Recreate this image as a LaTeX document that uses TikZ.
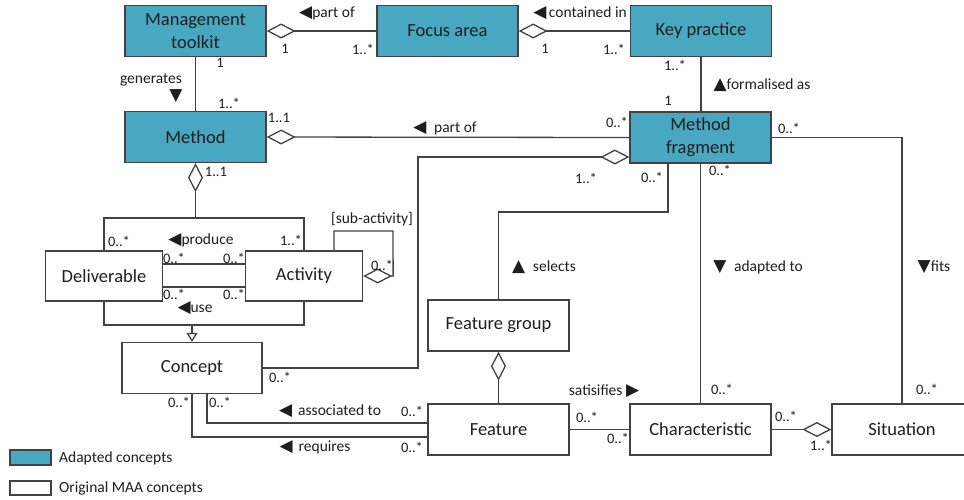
\documentclass[tikz,border=0pt]{standalone}
\usepackage{fontspec}
\setmainfont{Carlito}
\newfontfamily\symfont{DejaVu Sans}
\usepackage{xcolor}
\usetikzlibrary{arrows.meta}

\definecolor{adaptfill}{RGB}{72,167,193}
\definecolor{umlline}{RGB}{66,66,66}
\definecolor{umltext}{RGB}{30,30,30}

\newcommand{\ltri}{{\symfont\fontsize{17}{17}\selectfont ◀}}
\newcommand{\rtri}{{\symfont\fontsize{17}{17}\selectfont ▶}}
\newcommand{\utri}{{\symfont\fontsize{17}{17}\selectfont ▲}}
\newcommand{\dtri}{{\symfont\fontsize{17}{17}\selectfont ▼}}

\tikzset{
    maabox/.style={draw=umlline, line width=1.3pt, fill=white, minimum width=141pt,
        minimum height=51pt, inner sep=2pt, align=center, text=umltext,
        font=\fontsize{18.5}{23}\selectfont},
    adaptedbox/.style={maabox, fill=adaptfill},
    assoc/.style={draw=umlline, line width=1.3pt},
    agg/.style={assoc, {Diamond[open, length=29pt, width=15pt]}-},
    aggend/.style={assoc, -{Diamond[open, length=29pt, width=15pt]}},
    mult/.style={inner sep=0pt, text=umltext, font=\fontsize{14.5}{15}\selectfont},
    role/.style={inner sep=0pt, text=umltext, font=\fontsize{15.5}{16}\selectfont},
}

\begin{document}
\begin{tikzpicture}[x=1pt, y=-1pt]
    \useasboundingbox (0,0) rectangle (964,499);

    % group round deliverable and activity
    \node[draw=umlline, line width=1.3pt, minimum width=200pt, minimum height=107pt] (grp) at (204,271.5) {};

    \node[adaptedbox] (toolkit) at (195.5,31) {Management\\toolkit};
    \node[adaptedbox] (focus) at (447.5,31) {Focus area};
    \node[adaptedbox] (keyprac) at (701,31) {Key practice};
    \node[adaptedbox] (method) at (195.5,137) {Method};
    \node[adaptedbox] (fragment) at (700.5,137.5) {Method\\fragment};

    \node[maabox, minimum width=117pt, minimum height=50pt] (deliv) at (104,276) {Deliverable};
    \node[maabox, minimum width=117pt, minimum height=50pt] (activ) at (304,276) {Activity};
    \node[maabox, minimum width=140pt] (concept) at (192,368) {Concept};
    \node[maabox] (fgroup) at (498.5,325.5) {Feature group};
    \node[maabox] (feature) at (498.5,429.5) {Feature};
    \node[maabox] (charac) at (700.5,429.5) {Characteristic};
    \node[maabox, minimum width=140pt] (situ) at (902,429.5) {Situation};

    \coordinate (selbend) at (668,212);
    \coordinate (conbend) at (418,157);
    \coordinate (subloop) at (393,231);

    % connectors
    \draw[agg] (toolkit.east) -- (focus.west);
    \draw[agg] (focus.east) -- (keyprac.west);
    \draw[assoc] (toolkit.south) -- (method.north);
    \draw[agg] (method.east) -- (fragment.west);
    \draw[assoc] (keyprac.south) -- (keyprac.south |- fragment.north);
    \draw[agg] (method.south) -- (method.south |- grp.north);
    \draw[assoc, -{Triangle[open, length=9pt, width=11pt]}] (grp.south -| concept.north) -- (concept.north);
    \draw[assoc] ([yshift=12pt]deliv.east) -- ([yshift=12pt]activ.west);
    \draw[assoc] ([yshift=-11pt]deliv.east) -- ([yshift=-11pt]activ.west);
    \draw[agg] (activ.east) -- ++(30,0) -- (subloop) -| ([xshift=30pt]activ.north);
    \draw[agg] ([yshift=-19.5pt]fragment.west) -- (conbend) |- (concept.east);
    \draw[assoc] (fgroup.north) |- (selbend) -- (selbend |- fragment.south);
    \draw[agg] (fgroup.south) -- (feature.north);
    \draw[assoc] (fragment.south) -- (charac.north);
    \draw[assoc] (fragment.east) -| (situ.north);
    \draw[assoc] (feature.east) -- (charac.west);
    \draw[aggend] (charac.east) -- (situ.west);
    \draw[assoc] ([xshift=15pt]concept.south) |- ([yshift=6.5pt]feature.west);
    \draw[assoc] (concept.south) |- ([yshift=-7.5pt]feature.west);

    % role names
    \node[role] (rpart) at (327,13) {\ltri part of};
    \node[role] (rcont) at (580,13) {\ltri\,contained in};
    \node[role] (rgen) at (151,80) {generates};
    \node[role] (rgentri) at (176,96) {\dtri};
    \node[role] (rform) at (762,85) {\utri formalised as};
    \node[role] (rpartm) at (445,128) {\ltri\enspace part of};
    \node[role] (rprod) at (201,240) {\ltri produce};
    \node[role] (ruse) at (195,308) {\ltri use};
    \node[role] (rsub) at (372,219) {[sub-activity]};
    \node[role] (rsel) at (544,267) {\utri\enspace selects};
    \node[role] (radapt) at (758,267) {\dtri\enspace adapted to};
    \node[role] (rfits) at (934,267) {\dtri fits};
    \node[role] (rassoc) at (330,411) {\ltri\, associated to};
    \node[role] (rreq) at (315,447) {\ltri\, requires};
    \node[role] (rsat) at (604,391) {satisifies \rtri};

    % multiplicities
    \node[mult] (m1) at (285,49) {1};
    \node[mult] (m2) at (363,49) {1..*};
    \node[mult] (m3) at (545,49) {1};
    \node[mult] (m4) at (614,49) {1..*};
    \node[mult] (m5) at (220,63) {1};
    \node[mult] (m6) at (229,103) {1..*};
    \node[mult] (m7) at (279,118) {1..1};
    \node[mult] (m8) at (216,172) {1..1};
    \node[mult] (m9) at (675,65) {1..*};
    \node[mult] (m10) at (668,101) {1};
    \node[mult] (m11) at (617,122) {0..*};
    \node[mult] (m12) at (789,128) {0..*};
    \node[mult] (m13) at (652,177) {0..*};
    \node[mult] (m14) at (720,170) {0..*};
    \node[mult] (m15) at (586,178) {1..*};
    \node[mult] (m16) at (119,241) {0..*};
    \node[mult] (m17) at (291,240) {1..*};
    \node[mult] (m18) at (174,258) {0..*};
    \node[mult] (m19) at (234,258) {0..*};
    \node[mult] (m20) at (174,294) {0..*};
    \node[mult] (m21) at (234,294) {0..*};
    \node[mult] (m22) at (382,265) {0..*};
    \node[mult] (m23) at (280,377) {0..*};
    \node[mult] (m24) at (179,402) {0..*};
    \node[mult] (m25) at (220,402) {0..*};
    \node[mult] (m26) at (412,411) {0..*};
    \node[mult] (m27) at (412,447) {0..*};
    \node[mult] (m28) at (587,417) {0..*};
    \node[mult] (m29) at (618,438) {0..*};
    \node[mult] (m30) at (722,389) {0..*};
    \node[mult] (m31) at (786,416) {0..*};
    \node[mult] (m32) at (821,445) {1..*};
    \node[mult] (m33) at (927,389) {0..*};

    % legend
    \draw[umlline, line width=1.3pt, fill=adaptfill] (10,450) rectangle (51,465);
    \draw[umlline, line width=1.3pt, fill=white] (10,481) rectangle (51,495);
    \node[role, anchor=west] (ladapt) at (59,458) {Adapted concepts};
    \node[role, anchor=west] (lorig) at (59,488) {Original MAA concepts};
\end{tikzpicture}
\end{document}
